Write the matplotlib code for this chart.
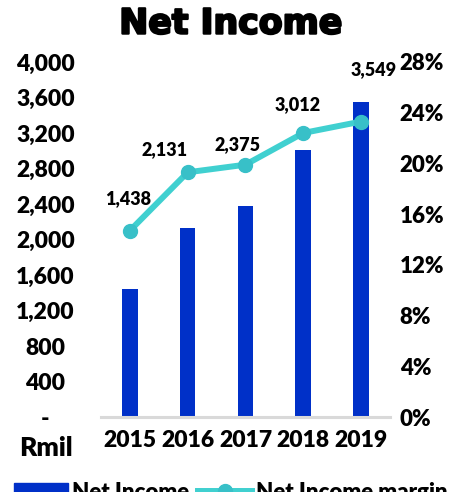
import numpy as np
import matplotlib.pyplot as plt
import matplotlib.patheffects as pe
from matplotlib.ticker import FuncFormatter

years = ['2015', '2016', '2017', '2018', '2019']
net_income = [1438, 2131, 2375, 3012, 3549]
margin_pct = [14.7, 19.3, 19.9, 22.4, 23.3]
# label offsets (points) from each margin marker
label_offsets = [(-1, 17), (-17, 10), (-6, 8), (-4, 14), (9, 31)]

bar_color = '#0030C8'
line_color = '#40D0D0'
marker_color = '#38C0C8'

plt.rcParams['font.family'] = ['Lato', 'DejaVu Sans']
plt.rcParams['font.weight'] = 'heavy'

fig = plt.figure(figsize=(4.62, 4.92), dpi=100)
ax = fig.add_axes([0.2186, 0.1524, 0.6254, 0.7216])
ax2 = ax.twinx()

xs = np.arange(len(years))
ax.bar(xs, net_income, width=0.27, color=bar_color, zorder=2)
ax.set_xlim(-0.5, len(years) - 0.5)
ax.set_ylim(0, 4000)
ax.set_yticks(np.arange(0, 4001, 400))
ax.yaxis.set_major_formatter(FuncFormatter(lambda v, p: '-' if v == 0 else f'{v:,.0f}'))
ax.set_xticks(xs)
ax.set_xticklabels(years)

ax2.plot(xs, margin_pct, color=line_color, lw=4.3, marker='o', ms=10,
         mfc=marker_color, mec=marker_color, zorder=3,
         solid_capstyle='round')
ax2.set_ylim(0, 28)
ax2.set_yticks(np.arange(0, 29, 4))
ax2.yaxis.set_major_formatter(FuncFormatter(lambda v, p: f'{v:.0f}%'))

for x, m, v, off in zip(xs, margin_pct, net_income, label_offsets):
    ax2.annotate(f'{v:,}', (x, m), xytext=off, textcoords='offset points',
                 ha='center', va='bottom', fontsize=13, fontweight='heavy')

for a in (ax, ax2):
    for s in a.spines.values():
        s.set_visible(False)
    a.tick_params(length=0)
ax.spines['bottom'].set_visible(True)
ax.spines['bottom'].set_color('#D9D9D9')
ax.spines['bottom'].set_linewidth(2.2)

ax.tick_params(axis='y', labelsize=16.5, pad=40)
ax.tick_params(axis='x', labelsize=16.5, pad=9)
ax2.tick_params(axis='y', labelsize=16, pad=7)
for lab in ax.get_yticklabels():
    lab.set_horizontalalignment('center')

fig.text(0.5, 0.952, 'Net Income', ha='center', va='center',
         fontsize=25, fontweight='bold', family='DejaVu Sans',
         path_effects=[pe.withStroke(linewidth=1.6, foreground='black')])
fig.text(0.1, 0.09, 'Rmil', ha='center', va='center',
         fontsize=19, fontweight='heavy')

h1 = plt.Rectangle((0, 0), 1, 1, color=bar_color)
h2 = plt.Line2D([], [], color=line_color, lw=4.3, marker='o', ms=10,
                mfc=marker_color, mec=marker_color)
fig.legend([h1, h2], ['Net Income', 'Net Income margin'],
           loc='center', bbox_to_anchor=(0.5, -0.001), ncol=2, frameon=False,
           prop={'size': 16, 'weight': 'heavy'}, handlelength=2.4,
           columnspacing=0.4, handletextpad=0.2)

fig.savefig('out.png', dpi=100)
